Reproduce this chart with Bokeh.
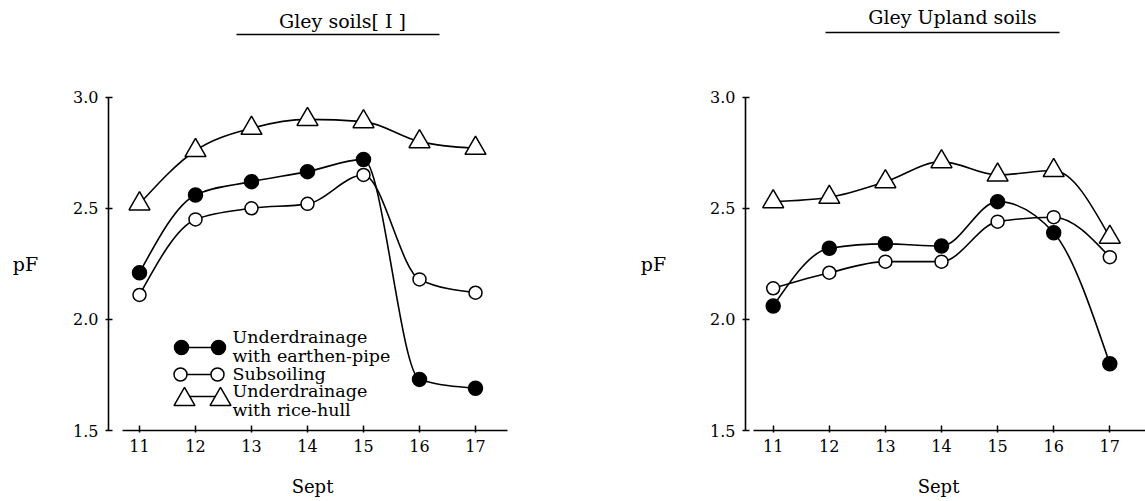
import numpy as np
from bokeh.plotting import figure
from bokeh.layouts import row
from bokeh.models import FixedTicker, Label, PrintfTickFormatter
from bokeh.embed import file_html
from bokeh.resources import INLINE

# ---------------- data ----------------
days = [11, 12, 13, 14, 15, 16, 17]
y_ticks = [1.5, 2.0, 2.5, 3.0]

# Gley soils [I]
gley_earthen = [2.21, 2.56, 2.62, 2.665, 2.72, 1.73, 1.69]
gley_subsoil = [2.11, 2.45, 2.50, 2.52, 2.65, 2.18, 2.12]
gley_ricehull = [2.52, 2.76, 2.86, 2.90, 2.89, 2.80, 2.77]

# Gley Upland soils
upland_earthen = [2.06, 2.32, 2.34, 2.33, 2.53, 2.39, 1.80]
upland_subsoil = [2.14, 2.21, 2.26, 2.26, 2.44, 2.46, 2.28]
upland_ricehull = [2.53, 2.55, 2.62, 2.71, 2.65, 2.67, 2.37]

titles = ["Gley soils[ I ]", "Gley Upland soils"]
legend_lines = [["Underdrainage", "with earthen-pipe"], ["Subsoiling"],
                ["Underdrainage", "with rice-hull"]]
x_label = "Sept"
y_label = "pF"

FONT = "DejaVu Serif"
H = 501
AXIS_Y_IMG = 430
PX_PER_UNIT = 222.2


def monotone_tangents(x, y):
    n = len(x)
    h = np.diff(x)
    s = np.diff(y) / h
    m = np.zeros(n)
    for i in range(1, n - 1):
        h0, h1 = h[i - 1], h[i]
        s0, s1 = s[i - 1], s[i]
        pp = (s0 * h1 + s1 * h0) / (h0 + h1)
        m[i] = (np.sign(s0) + np.sign(s1)) * min(abs(s0), abs(s1), 0.5 * abs(pp))
    m[0] = (3 * s[0] - m[1]) / 2
    m[-1] = (3 * s[-1] - m[-2]) / 2
    return m


def smooth(p, xs, ys, **kw):
    x = np.asarray(xs, float)
    y = np.asarray(ys, float)
    m = monotone_tangents(x, y)
    h = np.diff(x)
    p.bezier(x0=x[:-1], y0=y[:-1], x1=x[1:], y1=y[1:],
             cx0=x[:-1] + h / 3, cy0=y[:-1] + m[:-1] * h / 3,
             cx1=x[1:] - h / 3, cy1=y[1:] - m[1:] * h / 3, **kw)


def make_panel(title, earthen, subsoil, ricehull, fig_left, width, axis_x_img,
               tick11, ppd, axis_x0, axis_x1, title_pos, underline, pf_pos,
               sept_pos, legend=None):
    def X(px):
        return 11 + (px - tick11) / ppd

    def Y(py):
        return 1.5 + (AXIS_Y_IMG - py) / PX_PER_UNIT

    p = figure(width=width, height=H, x_range=(X(fig_left), X(fig_left + width)),
               y_range=(Y(H), Y(0)), output_backend="svg", toolbar_location=None,
               title=None, min_border=0, min_border_left=0, min_border_right=0,
               min_border_top=0, min_border_bottom=0,
               background_fill_color="white", border_fill_color="white")
    p.outline_line_color = None
    p.xgrid.visible = False
    p.ygrid.visible = False

    xa = p.xaxis[0]
    xa.fixed_location = 1.5
    xa.ticker = FixedTicker(ticks=days)
    xa.bounds = (X(axis_x0), X(axis_x1))
    xa.axis_line_width = 1.6
    xa.major_tick_line_width = 1.5
    xa.major_tick_in = 5
    xa.major_tick_out = 2
    xa.minor_tick_line_color = None
    xa.major_label_standoff = 7
    xa.major_label_text_font = FONT
    xa.major_label_text_font_size = "16px"
    xa.major_label_text_color = "black"

    ya = p.yaxis[0]
    ya.fixed_location = X(axis_x_img)
    ya.ticker = FixedTicker(ticks=y_ticks)
    ya.formatter = PrintfTickFormatter(format="%.1f")
    ya.bounds = (1.5, 3.0)
    ya.axis_line_width = 1.6
    ya.major_tick_line_width = 1.5
    ya.major_tick_in = 4
    ya.major_tick_out = 3
    ya.minor_tick_line_color = None
    ya.major_label_standoff = 7
    ya.major_label_text_font = FONT
    ya.major_label_text_font_size = "16px"
    ya.major_label_text_color = "black"

    # curves
    for vals in (ricehull, earthen, subsoil):
        smooth(p, days, vals, line_color="black", line_width=1.6)

    p.scatter(days, ricehull, marker="triangle", size=21, fill_color="white",
              line_color="black", line_width=1.5)
    p.scatter(days, earthen, marker="circle", size=14, fill_color="black",
              line_color="black", line_width=1.5)
    p.scatter(days, subsoil, marker="circle", size=13, fill_color="white",
              line_color="black", line_width=1.5)

    # title and underline
    p.add_layout(Label(x=X(title_pos[0]), y=Y(title_pos[1]), text=title,
                       text_font=FONT, text_font_size="19px", text_align="center",
                       text_baseline="middle", text_color="black"))
    p.segment(x0=[X(underline[0])], y0=[Y(underline[2])], x1=[X(underline[1])],
              y1=[Y(underline[2])], line_color="black", line_width=1.6)

    p.add_layout(Label(x=X(pf_pos[0]), y=Y(pf_pos[1]), text=y_label,
                       text_font=FONT, text_font_size="19px", text_align="center",
                       text_baseline="middle", text_color="black"))
    p.add_layout(Label(x=X(sept_pos[0]), y=Y(sept_pos[1]), text=x_label,
                       text_font=FONT, text_font_size="18px", text_align="center",
                       text_baseline="middle", text_color="black"))

    if legend is not None:
        styles = [dict(marker="circle", size=14, fill_color="black"),
                  dict(marker="circle", size=13, fill_color="white"),
                  dict(marker="triangle", size=21, fill_color="white")]
        for (mx0, mx1, my, ly), st, lines, tys in zip(legend["markers"], styles,
                                                      legend_lines, legend["texts"]):
            p.segment(x0=[X(mx0)], y0=[Y(ly)], x1=[X(mx1)], y1=[Y(ly)],
                      line_color="black", line_width=1.6)
            p.scatter([X(mx0), X(mx1)], [Y(my), Y(my)], line_color="black",
                      line_width=1.5, **st)
            for t, ty in zip(lines, tys):
                p.add_layout(Label(x=X(legend["text_x"]), y=Y(ty), text=t,
                                   text_font=FONT, text_font_size="17.5px",
                                   text_align="left", text_baseline="middle",
                                   text_color="black"))
    return p


left = make_panel(titles[0], gley_earthen, gley_subsoil, gley_ricehull,
                  fig_left=0, width=560, axis_x_img=108, tick11=139, ppd=56.0,
                  axis_x0=122, axis_x1=507, title_pos=(342, 20),
                  underline=(236, 439, 34), pf_pos=(25, 263), sept_pos=(312, 486),
                  legend=dict(markers=[(181, 218, 347, 347), (180, 217, 374, 374),
                                       (184, 220, 399, 396)],
                              texts=[(336, 355), (373,), (390, 409)],
                              text_x=232))
right = make_panel(titles[1], upland_earthen, upland_subsoil, upland_ricehull,
                   fig_left=560, width=585, axis_x_img=745, tick11=772.7, ppd=56.1,
                   axis_x0=753, axis_x1=1145, title_pos=(952, 16),
                   underline=(825, 1059, 32), pf_pos=(653, 263), sept_pos=(938, 486))

layout = row(left, right)
open("out.html", "w").write(file_html(layout, INLINE))
